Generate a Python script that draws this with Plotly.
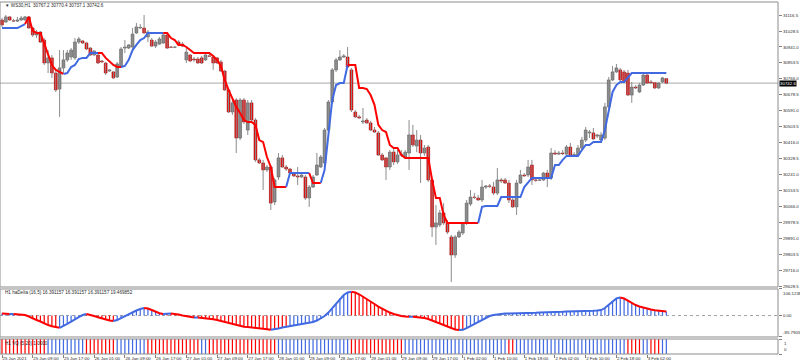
import plotly.graph_objects as go

# ---------------- data ----------------
time_labels = ["25 Jan 2021", "25 Jan 09:00", "25 Jan 17:00", "26 Jan 01:00", "26 Jan 09:00",
               "26 Jan 17:00", "27 Jan 01:00", "27 Jan 09:00", "27 Jan 17:00", "28 Jan 01:00",
               "28 Jan 09:00", "28 Jan 17:00", "29 Jan 01:00", "29 Jan 09:00", "29 Jan 17:00",
               "1 Feb 02:00", "1 Feb 10:00", "1 Feb 18:00", "2 Feb 02:00", "2 Feb 10:00",
               "2 Feb 18:00", "3 Feb 02:00"]
label_bars = [0, 8, 16, 24, 32, 40, 48, 56, 64, 72, 80, 88, 96, 104, 112, 120, 128, 136, 144, 152, 160, 168]

price_ticks = [29628.5, 29716.0, 29803.5, 29891.0, 29978.5, 30066.0, 30153.5, 30241.0, 30328.5,
               30416.0, 30503.5, 30591.0, 30678.5, 30766.0, 30853.5, 30941.0, 31028.5, 31116.5]

open_ = [31089, 31078, 31106, 31084, 31083, 31089, 31090, 31106, 31045, 31007,
         31023, 30979, 30853, 30881, 30798, 30710, 30826, 30870, 30886, 30881,
         30968, 30974, 30963, 30935, 30897, 30897, 30864, 30853, 30809, 30804,
         30776, 30831, 30935, 30935, 30941, 31018, 31045, 31045, 30996, 30979,
         30946, 30957, 30963, 31007, 30941, 30939, 30968, 30957, 30870, 30897,
         30875, 30875, 30881, 30870, 30892, 30886, 30881, 30859, 30809, 30705,
         30584, 30650, 30441, 30650, 30485, 30634, 30540, 30321, 30304, 30266,
         30282, 30090, 30227, 30332, 30282, 30271, 30244, 30233, 30227, 30227,
         30112, 30172, 30238, 30282, 30304, 30485, 30639, 30815, 30870, 30886,
         30886, 30815, 30584, 30557, 30529, 30540, 30524, 30485, 30469, 30348,
         30332, 30282, 30364, 30310, 30348, 30337, 30359, 30458, 30397, 30430,
         30359, 30392, 30211, 29953, 29964, 30030, 29975, 29898, 29799, 29898,
         29920, 29975, 30079, 30117, 30112, 30101, 30172, 30178, 30172, 30139,
         30211, 30211, 30194, 30101, 30063, 30194, 30238, 30238, 30293, 30211,
         30209, 30211, 30249, 30222, 30359, 30353, 30359, 30353, 30392, 30348,
         30348, 30386, 30430, 30469, 30469, 30452, 30430, 30441, 30612, 30760,
         30804, 30815, 30804, 30798, 30677, 30721, 30694, 30732, 30787, 30749,
         30745, 30716, 30749, 30767.2]

high = [31100, 31117, 31111, 31095, 31106, 31111, 31111, 31111, 31051, 31034,
        31029, 30990, 30924, 30897, 30815, 30924, 30924, 30924, 30935, 30990,
        30996, 30979, 30968, 30941, 30924, 30908, 30870, 30859, 30820, 30809,
        30859, 30941, 30979, 30957, 31045, 31073, 31067, 31117, 31034, 30990,
        30979, 30996, 31018, 31018, 30946, 30946, 30979, 30968, 30935, 30902,
        30886, 30886, 30892, 30902, 30902, 30897, 30886, 30870, 30815, 30716,
        30650, 30661, 30661, 30661, 30650, 30650, 30551, 30332, 30321, 30293,
        30293, 30222, 30359, 30348, 30293, 30277, 30255, 30282, 30244, 30238,
        30183, 30238, 30359, 30348, 30496, 30650, 30826, 30881, 30924, 30902,
        30941, 30826, 30595, 30568, 30606, 30551, 30535, 30502, 30480, 30359,
        30337, 30375, 30386, 30375, 30375, 30375, 30540, 30513, 30485, 30458,
        30403, 30403, 30222, 30073, 30046, 30084, 29991, 29909, 29909, 29936,
        29980, 30101, 30156, 30139, 30128, 30211, 30183, 30189, 30200, 30277,
        30222, 30222, 30211, 30112, 30211, 30266, 30249, 30321, 30321, 30222,
        30222, 30255, 30266, 30386, 30375, 30370, 30375, 30403, 30414, 30364,
        30403, 30447, 30502, 30485, 30496, 30463, 30474, 30634, 30776, 30837,
        30848, 30826, 30815, 30815, 30749, 30732, 30743, 30804, 30793, 30760,
        30749, 30749, 30776, 30770.4]

low = [31051, 31073, 31084, 31078, 31078, 31084, 31084, 31040, 30996, 30990,
       30963, 30842, 30798, 30771, 30694, 30557, 30798, 30859, 30870, 30870,
       30957, 30957, 30924, 30892, 30892, 30848, 30853, 30787, 30804, 30765,
       30771, 30826, 30908, 30930, 30930, 31012, 31040, 31012, 30968, 30941,
       30935, 30952, 30957, 30930, 30935, 30935, 30946, 30941, 30853, 30859,
       30859, 30848, 30848, 30864, 30886, 30815, 30848, 30804, 30699, 30579,
       30568, 30359, 30430, 30518, 30458, 30529, 30310, 30299, 30156, 30255,
       30046, 30073, 30211, 30277, 30260, 30244, 30227, 30183, 30222, 30101,
       30063, 30167, 30233, 30277, 30293, 30474, 30628, 30804, 30864, 30881,
       30826, 30584, 30551, 30546, 30518, 30518, 30480, 30469, 30343, 30315,
       30211, 30266, 30293, 30299, 30337, 30332, 30266, 30392, 30364, 30194,
       30343, 30200, 29898, 29854, 29953, 29964, 29914, 29651, 29783, 29892,
       29909, 29964, 30068, 30106, 30096, 30090, 30161, 30167, 30128, 30128,
       30194, 30189, 30084, 30057, 30019, 30189, 30227, 30227, 30183, 30200,
       30205, 30205, 30172, 30211, 30348, 30348, 30348, 30343, 30343, 30343,
       30337, 30375, 30419, 30441, 30430, 30441, 30425, 30430, 30606, 30754,
       30798, 30754, 30743, 30672, 30634, 30710, 30688, 30727, 30738, 30738,
       30710, 30710, 30743, 30737.1]

close_ = [31062, 31106, 31089, 31083, 31089, 31100, 31106, 31045, 31007, 31023,
          30968, 30853, 30881, 30798, 30705, 30826, 30870, 30908, 30924, 30968,
          30985, 30963, 30930, 30897, 30919, 30853, 30859, 30798, 30815, 30771,
          30848, 30930, 30941, 30952, 31012, 31051, 31049, 31018, 31023, 30946,
          30968, 30985, 31007, 30935, 30939, 30941, 30952, 30946, 30913, 30864,
          30870, 30853, 30853, 30897, 30890, 30853, 30853, 30809, 30705, 30584,
          30634, 30441, 30650, 30529, 30634, 30540, 30321, 30304, 30266, 30282,
          30084, 30211, 30332, 30282, 30271, 30249, 30233, 30227, 30238, 30112,
          30172, 30227, 30293, 30337, 30485, 30639, 30815, 30870, 30886, 30892,
          30831, 30595, 30557, 30551, 30535, 30524, 30485, 30474, 30348, 30321,
          30282, 30364, 30310, 30348, 30353, 30364, 30458, 30403, 30430, 30359,
          30386, 30211, 29953, 29975, 30030, 29975, 29925, 29799, 29898, 29925,
          29975, 30084, 30117, 30115, 30101, 30172, 30178, 30176, 30139, 30211,
          30205, 30194, 30101, 30063, 30194, 30238, 30233, 30282, 30211, 30209,
          30211, 30249, 30222, 30359, 30353, 30359, 30355, 30392, 30348, 30350,
          30386, 30430, 30485, 30474, 30436, 30458, 30458, 30612, 30760, 30804,
          30826, 30760, 30749, 30677, 30721, 30716, 30732, 30787, 30743, 30745,
          30716, 30743, 30771, 30742.6]

trend_line = [31045, 31045, 31045, 31045, 31045, 31056, 31067, 31106, 31029, 31018,
              31018, 30963, 30897, 30842, 30815, 30804, 30793, 30798, 30831, 30842,
              30875, 30881, 30881, 30908, 30908, 30908, 30908, 30881, 30859, 30842,
              30831, 30831, 30837, 30870, 30924, 30952, 30979, 30990, 31018, 31018,
              31018, 31018, 31018, 31018, 30990, 30979, 30952, 30952, 30941, 30924,
              30908, 30908, 30908, 30908, 30908, 30892, 30870, 30837, 30760, 30705,
              30661, 30612, 30579, 30540, 30529, 30529, 30513, 30430, 30419, 30337,
              30282, 30172, 30172, 30172, 30172, 30249, 30249, 30249, 30249, 30249,
              30249, 30194, 30194, 30194, 30266, 30458, 30650, 30732, 30743, 30743,
              30842, 30842, 30842, 30716, 30716, 30710, 30677, 30623, 30513, 30485,
              30474, 30403, 30386, 30386, 30348, 30332, 30332, 30332, 30332, 30332,
              30332, 30332, 30211, 30112, 30112, 30019, 29975, 29975, 29975, 29975,
              29975, 29975, 29975, 29975, 29975, 30063, 30068, 30068, 30068, 30068,
              30117, 30117, 30117, 30117, 30117, 30117, 30172, 30200, 30222, 30222,
              30222, 30222, 30222, 30222, 30293, 30293, 30321, 30343, 30343, 30343,
              30343, 30375, 30403, 30403, 30419, 30419, 30419, 30485, 30595, 30694,
              30732, 30749, 30749, 30771, 30798, 30798, 30798, 30798, 30798, 30798,
              30798, 30798, 30798, 30798]
trend_dir_runs = [("U", 7), ("D", 10), ("U", 9), ("D", 6), ("U", 11), ("D", 32),
                  ("U", 6), ("D", 3), ("U", 7), ("D", 34), ("U", 49)]

hadelta = [8, 7, 6, 6, 5, 4, 2, -4, -12, -18,
           -24, -32, -38, -43, -47, -49, -42, -33, -24, -14,
           -6, 2, 6, 3, -2, -7, -12, -16, -20, -22,
           -18, -10, -2, 6, 13, 20, 26, 30, 28, 22,
           15, 9, 6, 7, 8, 7, 4, 0, -3, -6,
           -8, -8, -9, -10, -12, -15, -18, -22, -27, -32,
           -36, -40, -43, -45, -46, -47, -49, -51, -53, -55,
           -57, -56, -52, -48, -45, -42, -40, -38, -36, -33,
           -30, -26, -20, -12, -2, 12, 30, 50, 68, 82,
           92, 95, 92, 85, 76, 66, 56, 46, 36, 27,
           19, 12, 6, 1, -2, -4, -5, -5, -6, -8,
           -10, -14, -20, -27, -34, -40, -46, -52, -56, -58,
           -57, -50, -42, -33, -24, -15, -8, -2, 2, 5,
           7, 8, 8, 8, 9, 10, 10, 11, 11, 11,
           12, 12, 12, 13, 14, 15, 15, 16, 16, 17,
           17, 18, 19, 19, 19, 20, 22, 30, 44, 58,
           68, 72, 68, 60, 50, 42, 36, 31, 27, 24,
           21, 19, 18, 16.391157]
hadelta_bar_runs = [("B", 5), ("R", 10), ("B", 7), ("R", 8), ("B", 13), ("R", 32),
                    ("B", 16), ("R", 30), ("B", 53)]

vq_runs = [("R", 12), ("B", 10), ("R", 8), ("B", 8), ("R", 14), ("B", 2), ("R", 18),
           ("B", 19), ("R", 14), ("B", 27), ("R", 2), ("B", 29), ("R", 4), ("B", 2),
           ("R", 3), ("B", 2)]

# ---------------- helpers ----------------
RED = "#FF0000"
BLUE = "#4169E1"
FONT = "Liberation Sans, Arial, sans-serif"
TXT = "#2b2b2b"


def expand(runs):
    out = []
    for s, n in runs:
        out += [s] * n
    return out


def segment_runs(values, seg_state):
    res = []
    n = len(values)
    i = 1
    while i < n:
        s = seg_state[i]
        j = i
        while j + 1 < n and seg_state[j + 1] == s:
            j += 1
        res.append((list(range(i - 1, j + 1)), values[i - 1:j + 1], s))
        i = j + 1
    return res


n = len(close_)
idx = list(range(n))

fig = go.Figure()

# candles: wicks
wx, wy = [], []
for i in idx:
    wx += [i, i, None]
    wy += [low[i], high[i], None]
fig.add_trace(go.Scatter(x=wx, y=wy, mode="lines", line=dict(color="#8c8c8c", width=1),
                         hoverinfo="skip", xaxis="x", yaxis="y"))
# candles: bodies
bull = [c >= o for o, c in zip(open_, close_)]
base = [min(o, c) for o, c in zip(open_, close_)]
hgt = [max(abs(c - o), 1.5) for o, c in zip(open_, close_)]
fill = ["#8e8e8e" if b else "#FF0000" for b in bull]
edge = ["#505050" if b else "#9a0000" for b in bull]
fig.add_trace(go.Bar(x=idx, y=hgt, base=base, width=0.72,
                     marker=dict(color=fill, line=dict(color=edge, width=0.6)),
                     hoverinfo="skip", xaxis="x", yaxis="y"))

# step trend line
tdir = expand(trend_dir_runs)
for xs, ys, s in segment_runs(trend_line, tdir):
    fig.add_trace(go.Scatter(x=xs, y=ys, mode="lines",
                             line=dict(color=BLUE if s == "U" else RED, width=2),
                             hoverinfo="skip", xaxis="x", yaxis="y"))

# haDelta histogram + line
hcol = [BLUE if s == "B" else RED for s in expand(hadelta_bar_runs)]
fig.add_trace(go.Bar(x=idx, y=hadelta, width=0.32, marker=dict(color=hcol, line=dict(width=0)),
                     hoverinfo="skip", xaxis="x", yaxis="y2"))
hseg = ["B"] + ["B" if hadelta[i] >= hadelta[i - 1] else "R" for i in range(1, n)]
for xs, ys, s in segment_runs(hadelta, hseg):
    fig.add_trace(go.Scatter(x=xs, y=ys, mode="lines",
                             line=dict(color=BLUE if s == "B" else RED, width=2),
                             hoverinfo="skip", xaxis="x", yaxis="y2"))

# VQ histogram
vcol = [BLUE if s == "B" else RED for s in expand(vq_runs)]
fig.add_trace(go.Bar(x=idx, y=[1] * n, width=0.32, marker=dict(color=vcol, line=dict(width=0)),
                     hoverinfo="skip", xaxis="x", yaxis="y3"))

# ---------------- layout ----------------
D_MAIN = [0.1903, 1.0]
D_HD = [0.0483, 0.1847]
D_VQ = [0.0, 0.0426]
axis_common = dict(showgrid=False, zeroline=False, showline=False, fixedrange=True)
tickfont = dict(family=FONT, size=4.4, color=TXT)

fig.update_layout(
    width=800, height=364,
    margin=dict(l=0, r=22, t=2, b=10),
    paper_bgcolor="white", plot_bgcolor="white",
    showlegend=False, barmode="overlay",
    font=dict(family=FONT, size=4.4, color=TXT),
    xaxis=dict(domain=[0, 1], range=[-0.52, 202.08], anchor="y3",
               tickvals=label_bars, ticktext=time_labels, ticks="outside", ticklen=3,
               tickcolor="#808080", tickwidth=1, ticklabelposition="outside right",
               tickangle=0, tickfont=tickfont, **axis_common),
    yaxis=dict(domain=D_MAIN, range=[29623.2, 31187.9], side="right", anchor="x",
               tickvals=price_ticks, ticktext=[f"{v:.1f}" for v in price_ticks],
               ticks="outside", ticklen=3, tickcolor="#808080", tickfont=tickfont, **axis_common),
    yaxis2=dict(domain=D_HD, range=[-85.79055, 106.12385], side="right", anchor="x",
                tickvals=[106.12385, 0, -85.79055], ticktext=["", "0.00", ""],
                ticks="outside", ticklen=3, tickcolor="#808080", tickfont=tickfont, **axis_common),
    yaxis3=dict(domain=D_VQ, range=[0, 1], side="right", anchor="x",
                tickvals=[1, 0], ticktext=["", ""],
                ticks="outside", ticklen=3, tickcolor="#808080", tickfont=tickfont, **axis_common),
)

shapes = []
# bid line
shapes.append(dict(type="line", xref="paper", x0=0, x1=1, yref="y", y0=close_[-1], y1=close_[-1],
                   line=dict(color="#a8a8a8", width=1), layer="below"))
# zero level in haDelta
shapes.append(dict(type="line", xref="paper", x0=0, x1=1, yref="y2", y0=0, y1=0,
                   line=dict(color="#a0a0a0", width=1, dash="dot"), layer="below"))
# panel frames
for d in (D_MAIN, D_HD, D_VQ):
    shapes.append(dict(type="rect", xref="paper", yref="paper", x0=0, x1=1, y0=d[0], y1=d[1],
                       line=dict(color="#8c8c8c", width=1), fillcolor="rgba(0,0,0,0)"))
fig.update_layout(shapes=shapes)

ann = []
ann.append(dict(text="▼ WS30,H1  30767.2 30770.4 30737.1 30742.6", xref="paper", yref="paper",
                x=0.004, y=0.991, xanchor="left", yanchor="middle", showarrow=False,
                font=dict(family=FONT, size=4.6, color=TXT)))
ann.append(dict(text="H1 haDelta (16,5) 16.391157 16.391157 16.391157 19.469852", xref="paper",
                yref="paper", x=0.004, y=0.176, xanchor="left", yanchor="middle", showarrow=False,
                font=dict(family=FONT, size=4.6, color=TXT)))
ann.append(dict(text="H1 VQ (5,20) 1.0000", xref="paper", yref="paper", x=0.004, y=0.03,
                xanchor="left", yanchor="middle", showarrow=False,
                font=dict(family=FONT, size=4.6, color=TXT)))
ann.append(dict(text="106.12385", xref="paper", yref="y2", x=1, y=106.12385, xshift=3,
                xanchor="left", yanchor="top", showarrow=False, font=tickfont))
ann.append(dict(text="-85.79055", xref="paper", yref="y2", x=1, y=-85.79055, xshift=3,
                xanchor="left", yanchor="bottom", showarrow=False, font=tickfont))
ann.append(dict(text="1", xref="paper", yref="y3", x=1, y=1, xshift=4,
                xanchor="left", yanchor="top", showarrow=False, font=tickfont))
ann.append(dict(text="0", xref="paper", yref="y3", x=1, y=0, xshift=4,
                xanchor="left", yanchor="bottom", showarrow=False, font=tickfont))
ann.append(dict(text=f"{close_[-1]:.1f}", xref="paper", yref="y", x=1, y=close_[-1], xshift=1,
                xanchor="left", yanchor="middle", showarrow=False, bgcolor="#000000",
                borderpad=0, font=dict(family=FONT, size=4.4, color="#ffffff")))
fig.update_layout(annotations=ann)

fig.write_html("out.html", config={"displayModeBar": False, "staticPlot": True},
               post_script="document.body.style.margin='0px';document.body.style.overflow='hidden';")
